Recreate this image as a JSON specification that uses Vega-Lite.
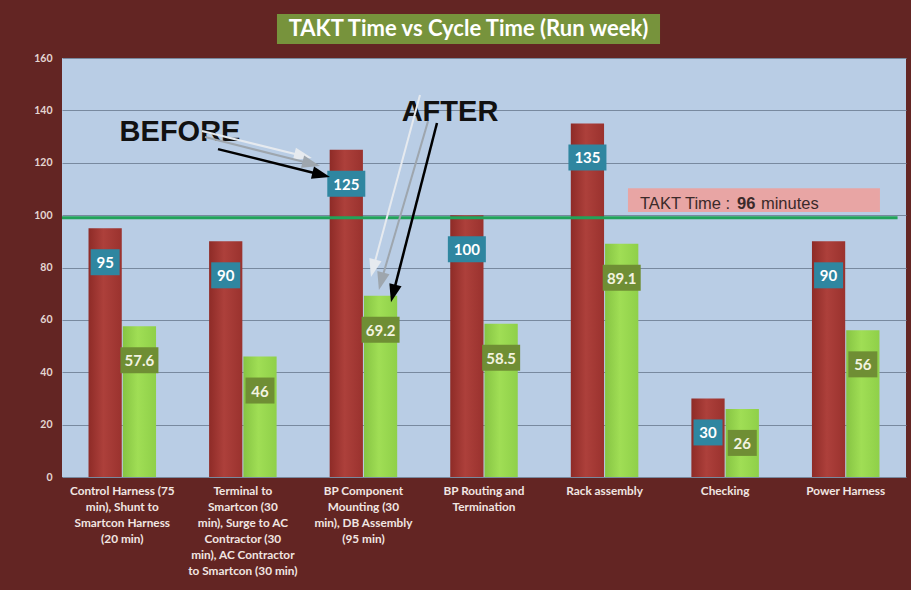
{
  "$schema": "https://vega.github.io/schema/vega-lite/v6.json",
  "description": "TAKT Time vs Cycle Time (Run week)",
  "background": "#632523",
  "autosize": {"type": "none"},
  "padding": {"left": 62, "top": 58, "right": 5, "bottom": 113},
  "width": 844,
  "height": 419,
  "view": {"fill": "#b9cde5", "stroke": null},
  "config": {
    "view": {"stroke": null},
    "font": "Lato",
    "axis": {"domain": false, "ticks": false}
  },
  "resolve": {"scale": {"x": "independent"}, "axis": {"x": "independent"}},
  "layer": [
    {
      "data": {
        "values": [
          {"stage": "Control Harness (75\nmin), Shunt to\nSmartcon Harness\n(20 min)", "series": "Before", "value": 95},
          {"stage": "Control Harness (75\nmin), Shunt to\nSmartcon Harness\n(20 min)", "series": "After", "value": 57.6},
          {"stage": "Terminal to\nSmartcon (30\nmin), Surge to AC\nContractor (30\nmin), AC Contractor\nto Smartcon (30 min)", "series": "Before", "value": 90},
          {"stage": "Terminal to\nSmartcon (30\nmin), Surge to AC\nContractor (30\nmin), AC Contractor\nto Smartcon (30 min)", "series": "After", "value": 46},
          {"stage": "BP Component\nMounting (30\nmin), DB Assembly\n(95 min)", "series": "Before", "value": 125},
          {"stage": "BP Component\nMounting (30\nmin), DB Assembly\n(95 min)", "series": "After", "value": 69.2},
          {"stage": "BP Routing and\nTermination", "series": "Before", "value": 100},
          {"stage": "BP Routing and\nTermination", "series": "After", "value": 58.5},
          {"stage": "Rack assembly", "series": "Before", "value": 135},
          {"stage": "Rack assembly", "series": "After", "value": 89.1},
          {"stage": "Checking", "series": "Before", "value": 30},
          {"stage": "Checking", "series": "After", "value": 26},
          {"stage": "Power Harness", "series": "Before", "value": 90},
          {"stage": "Power Harness", "series": "After", "value": 56}
        ]
      },
      "encoding": {
        "x": {
          "field": "stage", "type": "nominal", "sort": null,
          "scale": {"paddingInner": 0.44, "paddingOuter": 0.22},
          "axis": {
            "title": null, "labelExpr": "split(datum.value, '\\n')", "labelAngle": 0,
            "labelFont": "Lato", "labelFontSize": 11.8, "labelFontWeight": "bold",
            "labelColor": "#f1e6e2", "labelLineHeight": 16, "labelPadding": 8,
            "labelBaseline": "top", "labelOverlap": false, "labelBound": false, "labelLimit": 0, "grid": false
          }
        },
        "xOffset": {"field": "series", "type": "nominal", "sort": ["Before", "After"], "scale": {"paddingInner": 0.03, "paddingOuter": 0}},
        "y": {
          "field": "value", "type": "quantitative",
          "scale": {"domain": [0, 160], "nice": false},
          "axis": {
            "title": null, "values": [0, 20, 40, 60, 80, 100, 120, 140, 160],
            "labelFont": "Lato", "labelFontSize": 10.5, "labelFontWeight": "bold",
            "labelColor": "#e4d6d2", "labelPadding": 10,
            "gridColor": "#78899f", "gridWidth": 1, "gridOpacity": 1
          }
        }
      },
      "layer": [
        {
          "mark": {"type": "bar"},
          "encoding": {
            "fill": {
              "condition": {
                "test": "datum.series === 'Before'",
                "value": {"gradient": "linear", "x1": 0, "x2": 1, "y1": 0, "y2": 0,
                  "stops": [{"offset": 0, "color": "#8e2b27"}, {"offset": 0.45, "color": "#ad403b"}, {"offset": 1, "color": "#9a322e"}]}
              },
              "value": {"gradient": "linear", "x1": 0, "x2": 1, "y1": 0, "y2": 0,
                "stops": [{"offset": 0, "color": "#86c443"}, {"offset": 0.45, "color": "#a0de55"}, {"offset": 1, "color": "#8fd049"}]}
            }
          }
        },
        {
          "mark": {"type": "point", "size": 400, "filled": true, "opacity": 1, "strokeWidth": 0},
          "encoding": {
            "fill": {"condition": {"test": "datum.series === 'Before'", "value": "#2f86a0"}, "value": "#6f8e34"},
            "shape": {
              "condition": {"test": "datum.value >= 100 || datum.value % 1 != 0", "value": "M-1.9,2.1H1.9V4.7H-1.9Z"},
              "value": "M-1.45,2.1H1.45V4.7H-1.45Z"
            }
          }
        },
        {
          "mark": {"type": "text", "dy": 35, "baseline": "middle", "align": "center", "font": "Lato", "fontSize": 15, "fontWeight": "bold"},
          "encoding": {
            "text": {"field": "value", "type": "quantitative"},
            "color": {"condition": {"test": "datum.series === 'Before'", "value": "#ffffff"}, "value": "#f3f3e0"}
          }
        }
      ]
    },
    {
      "data": {"values": [{}]},
      "layer": [
        {
          "mark": {"type": "rect", "color": "#77933c"},
          "encoding": {
            "x": {"datum": 1.783, "type": "quantitative", "scale": {"domain": [0, 7], "nice": false, "zero": false}, "axis": null},
            "x2": {"datum": 4.96},
            "y": {"datum": 176.8, "type": "quantitative"},
            "y2": {"datum": 165.3}
          }
        },
        {
          "mark": {"type": "text", "text": "TAKT Time vs Cycle Time (Run week)", "align": "center", "baseline": "middle", "font": "Lato", "fontSize": 22, "fontWeight": "bold", "color": "#ffffff"},
          "encoding": {
            "x": {"datum": 3.371, "type": "quantitative", "axis": null},
            "y": {"datum": 171.1, "type": "quantitative"}
          }
        },
        {
          "mark": {"type": "rule", "color": "#22a35a", "strokeWidth": 3},
          "encoding": {
            "x": {"datum": 0, "type": "quantitative", "axis": null},
            "x2": {"datum": 6.93},
            "y": {"datum": 99, "type": "quantitative"}
          }
        },
        {
          "mark": {"type": "rect", "color": "#e8a5a4"},
          "encoding": {
            "x": {"datum": 4.694, "type": "quantitative", "axis": null},
            "x2": {"datum": 6.784},
            "y": {"datum": 110.3, "type": "quantitative"},
            "y2": {"datum": 101.2}
          }
        },
        {
          "mark": {"type": "text", "text": "TAKT Time :", "align": "left", "baseline": "alphabetic", "font": "Liberation Sans", "fontSize": 16.5, "color": "#3b2a2a"},
          "encoding": {
            "x": {"datum": 4.794, "type": "quantitative", "axis": null},
            "y": {"datum": 102.3, "type": "quantitative"}
          }
        },
        {
          "mark": {"type": "text", "text": "96", "align": "left", "baseline": "alphabetic", "font": "Liberation Sans", "fontSize": 16.5, "fontWeight": "bold", "color": "#3b2a2a"},
          "encoding": {
            "x": {"datum": 5.598, "type": "quantitative", "axis": null},
            "y": {"datum": 102.3, "type": "quantitative"}
          }
        },
        {
          "mark": {"type": "text", "text": "minutes", "align": "left", "baseline": "alphabetic", "font": "Liberation Sans", "fontSize": 16.5, "color": "#3b2a2a"},
          "encoding": {
            "x": {"datum": 5.797, "type": "quantitative", "axis": null},
            "y": {"datum": 102.3, "type": "quantitative"}
          }
        },
        {
          "mark": {"type": "text", "text": "BEFORE", "align": "center", "baseline": "alphabetic", "font": "Liberation Sans", "fontSize": 29, "fontWeight": "bold", "color": "#111111"},
          "encoding": {
            "x": {"datum": 0.979, "type": "quantitative", "axis": null},
            "y": {"datum": 128.3, "type": "quantitative"}
          }
        },
        {
          "mark": {"type": "text", "text": "AFTER", "align": "center", "baseline": "alphabetic", "font": "Liberation Sans", "fontSize": 29, "fontWeight": "bold", "color": "#111111"},
          "encoding": {
            "x": {"datum": 3.218, "type": "quantitative", "axis": null},
            "y": {"datum": 135.9, "type": "quantitative"}
          }
        },
        {
          "mark": {"type": "rule", "color": "#e6eaef", "strokeWidth": 2},
          "encoding": {
            "x": {"datum": 1.161, "type": "quantitative", "axis": null},
            "x2": {"datum": 2.0},
            "y": {"datum": 132.1, "type": "quantitative"},
            "y2": {"datum": 122.6}
          }
        },
        {
          "mark": {"type": "point", "shape": "M1,0L-1,-0.7L-1,0.7Z", "size": 324, "angle": 14, "filled": true, "opacity": 1, "color": "#e6eaef"},
          "encoding": {
            "x": {"datum": 2.0, "type": "quantitative", "axis": null},
            "y": {"datum": 122.6, "type": "quantitative"}
          }
        },
        {
          "mark": {"type": "rule", "color": "#9ea6ae", "strokeWidth": 2},
          "encoding": {
            "x": {"datum": 1.186, "type": "quantitative", "axis": null},
            "x2": {"datum": 2.068},
            "y": {"datum": 129.8, "type": "quantitative"},
            "y2": {"datum": 119.6}
          }
        },
        {
          "mark": {"type": "point", "shape": "M1,0L-1,-0.7L-1,0.7Z", "size": 324, "angle": 14, "filled": true, "opacity": 1, "color": "#9ea6ae"},
          "encoding": {
            "x": {"datum": 2.068, "type": "quantitative", "axis": null},
            "y": {"datum": 119.6, "type": "quantitative"}
          }
        },
        {
          "mark": {"type": "rule", "color": "#000000", "strokeWidth": 2.5},
          "encoding": {
            "x": {"datum": 1.294, "type": "quantitative", "axis": null},
            "x2": {"datum": 2.15},
            "y": {"datum": 125.2, "type": "quantitative"},
            "y2": {"datum": 115.4}
          }
        },
        {
          "mark": {"type": "point", "shape": "M1,0L-1,-0.7L-1,0.7Z", "size": 324, "angle": 14, "filled": true, "opacity": 1, "color": "#000000"},
          "encoding": {
            "x": {"datum": 2.15, "type": "quantitative", "axis": null},
            "y": {"datum": 115.4, "type": "quantitative"}
          }
        },
        {
          "mark": {"type": "rule", "color": "#e6eaef", "strokeWidth": 2},
          "encoding": {
            "x": {"datum": 2.969, "type": "quantitative", "axis": null},
            "x2": {"datum": 2.581},
            "y": {"datum": 145.9, "type": "quantitative"},
            "y2": {"datum": 79.7}
          }
        },
        {
          "mark": {"type": "point", "shape": "M1,0L-1,-0.7L-1,0.7Z", "size": 324, "angle": 104.4, "filled": true, "opacity": 1, "color": "#e6eaef"},
          "encoding": {
            "x": {"datum": 2.581, "type": "quantitative", "axis": null},
            "y": {"datum": 79.7, "type": "quantitative"}
          }
        },
        {
          "mark": {"type": "rule", "color": "#9ea6ae", "strokeWidth": 2},
          "encoding": {
            "x": {"datum": 3.036, "type": "quantitative", "axis": null},
            "x2": {"datum": 2.647},
            "y": {"datum": 135.9, "type": "quantitative"},
            "y2": {"datum": 74.7}
          }
        },
        {
          "mark": {"type": "point", "shape": "M1,0L-1,-0.7L-1,0.7Z", "size": 324, "angle": 104.4, "filled": true, "opacity": 1, "color": "#9ea6ae"},
          "encoding": {
            "x": {"datum": 2.647, "type": "quantitative", "axis": null},
            "y": {"datum": 74.7, "type": "quantitative"}
          }
        },
        {
          "mark": {"type": "rule", "color": "#000000", "strokeWidth": 2.5},
          "encoding": {
            "x": {"datum": 3.11, "type": "quantitative", "axis": null},
            "x2": {"datum": 2.747},
            "y": {"datum": 135.2, "type": "quantitative"},
            "y2": {"datum": 70.1}
          }
        },
        {
          "mark": {"type": "point", "shape": "M1,0L-1,-0.7L-1,0.7Z", "size": 324, "angle": 104.4, "filled": true, "opacity": 1, "color": "#000000"},
          "encoding": {
            "x": {"datum": 2.747, "type": "quantitative", "axis": null},
            "y": {"datum": 70.1, "type": "quantitative"}
          }
        }
      ]
    }
  ]
}
